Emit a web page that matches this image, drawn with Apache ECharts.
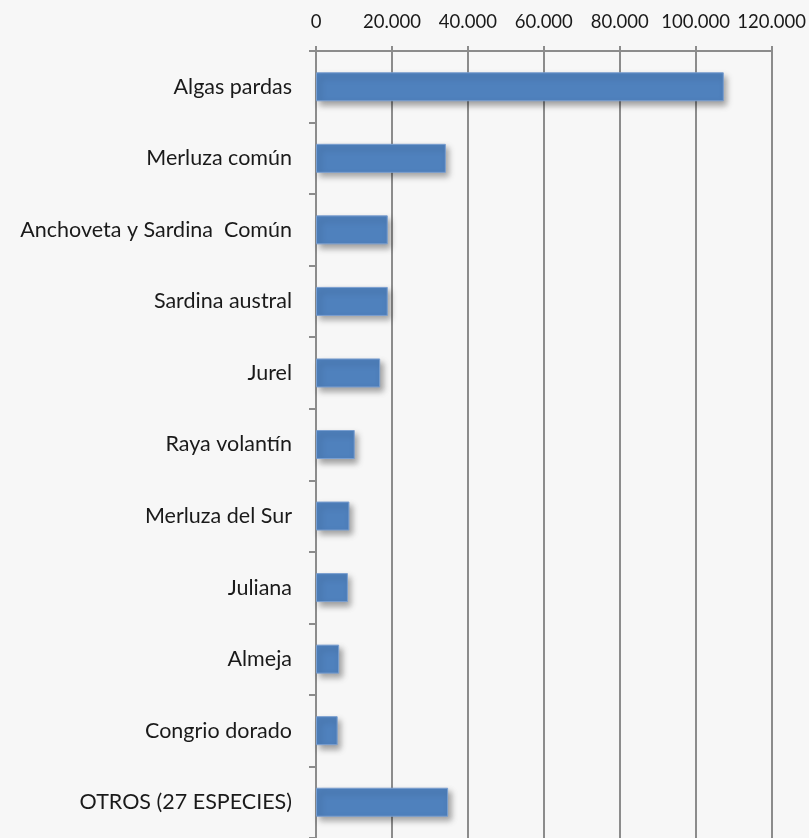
<!DOCTYPE html>
<html>
<head>
<meta charset="utf-8">
<script src="https://cdn.jsdelivr.net/npm/echarts@6/dist/echarts.min.js"></script>
<style>
  html, body { margin: 0; padding: 0; background: #f7f7f7; }
  #chart { width: 809px; height: 838px; }
</style>
</head>
<body>
<div id="chart"></div>
<script>
// especies (de arriba hacia abajo)
var especies = ['Algas pardas', 'Merluza común', 'Anchoveta y Sardina  Común', 'Sardina austral', 'Jurel',
    'Raya volantín', 'Merluza del Sur', 'Juliana', 'Almeja', 'Congrio dorado', 'OTROS (27 ESPECIES)'];
// toneladas
var valores = [107400, 34200, 18900, 18900, 16900, 10200, 8800, 8400, 6100, 5700, 34800];
var ejeMax = 120000;
var ejePaso = 20000;

function fmtMiles(v) {
    return String(v).replace(/\B(?=(\d{3})+(?!\d))/g, '.');
}

var chart = echarts.init(document.getElementById('chart'));
chart.setOption({
    backgroundColor: '#f7f7f7',
    animation: false,
    textStyle: { fontFamily: 'Lato, "Open Sans", sans-serif' },
    grid: { left: 316, top: 51, width: 457, height: 791, containLabel: false },
    xAxis: {
        type: 'value',
        position: 'top',
        min: 0,
        max: ejeMax,
        interval: ejePaso,
        axisLine: { show: true, lineStyle: { color: '#8c8c8c', width: 2 } },
        axisTick: { show: true, length: 5, lineStyle: { color: '#8c8c8c', width: 2 } },
        splitLine: { show: true, lineStyle: { color: '#8c8c8c', width: 2 } },
        axisLabel: { color: '#1a1a1a', fontSize: 18.5, margin: 19, formatter: fmtMiles }
    },
    yAxis: {
        type: 'category',
        inverse: true,
        data: especies,
        axisLine: { show: true, lineStyle: { color: '#8c8c8c', width: 2 } },
        axisTick: { show: true, length: 7, lineStyle: { color: '#8c8c8c', width: 2 } },
        axisLabel: { color: '#1a1a1a', fontSize: 21.5, margin: 24 }
    },
    series: [{
        type: 'bar',
        data: valores,
        barWidth: 29,
        itemStyle: {
            color: '#4f81bd',
            borderColor: '#7a9fd0',
            borderWidth: 1,
            shadowColor: 'rgba(0,0,0,0.35)',
            shadowBlur: 6,
            shadowOffsetX: 3,
            shadowOffsetY: 4
        }
    }]
});
</script>
</body>
</html>
